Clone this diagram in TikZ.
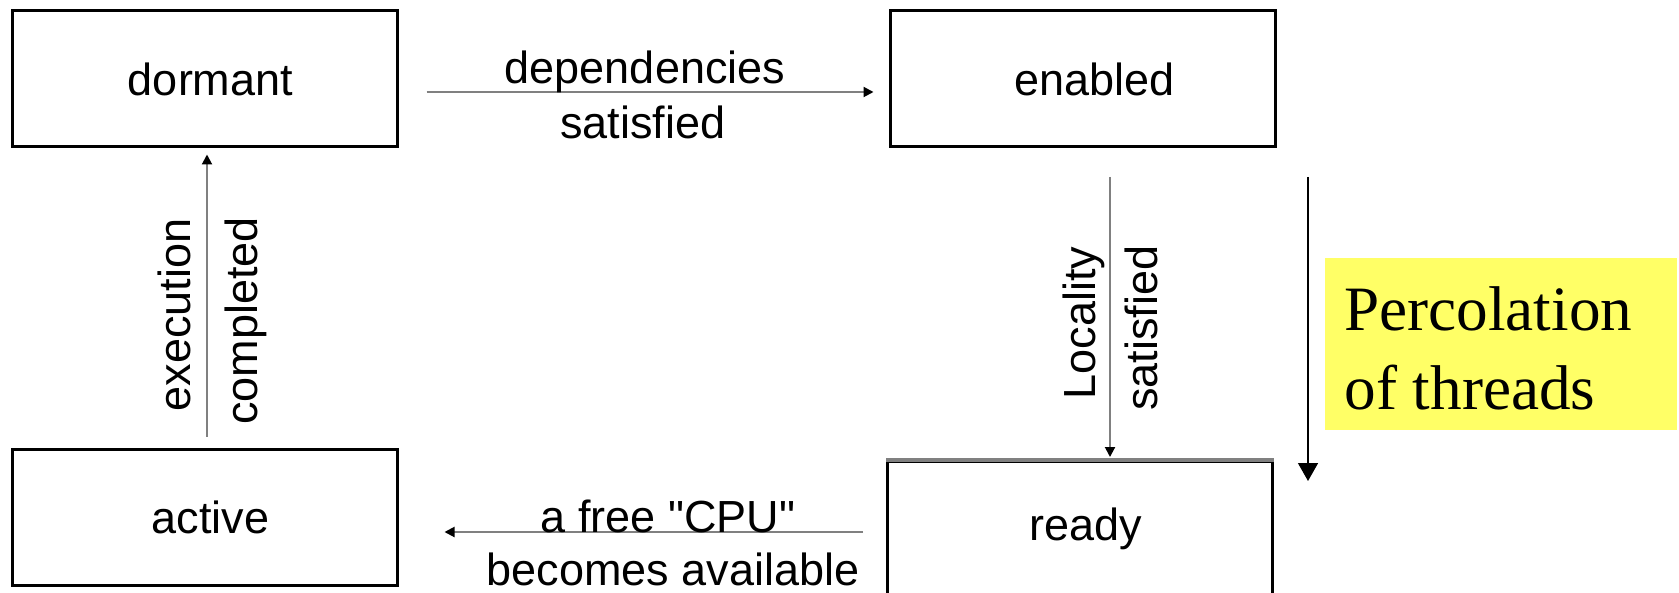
\documentclass[tikz,border=0pt]{standalone}
\usepackage{fontspec}
\newfontfamily\statefont{Liberation Sans}
\newfontfamily\notefont{Liberation Serif}
\usetikzlibrary{arrows.meta, calc}
\definecolor{noteyellow}{RGB}{255,255,102}
\definecolor{flowgray}{RGB}{128,128,128}
\def\labelsize{\fontsize{22.5}{25}\selectfont}

\begin{document}
\begin{tikzpicture}[x=0.5pt, y=-0.5pt,
    state/.style={draw, line width=1.5pt, minimum width=192.5pt, minimum height=68pt, inner sep=0pt, font=\statefont\labelsize},
    flow/.style={draw=flowgray, line width=1pt, -{Triangle[width=5pt, length=5pt, color=black]}},
    tag/.style={font=\statefont\labelsize, inner sep=0pt, anchor=base},
    vtag/.style={tag, rotate=90}]
    \clip (0,0) rectangle (1679,593);
    \fill [white] (0,0) rectangle (1679,593);

    % the four states
    \node [state] (dormant) at (204.5,79) {\hspace*{6pt}dormant};
    \node [state] (enabled) at (1082.5,79) {\hspace*{12pt}enabled};
    \node [state] (active) at (204.5,517.5) {\hspace*{6pt}active};
    \node [state] (ready) at (1080,529) {\hspace*{6pt}ready};
    \draw [flowgray, line width=2pt] (ready.north west) -- (ready.north east);

    % transitions
    \coordinate (depStart) at ($(dormant.east)+(28,13)$);
    \coordinate (depEnd) at ($(enabled.west)+(-15,13)$);
    \draw [flow] (depStart) -- (depEnd);
    \node [tag] (depLine1) at (645,84) {dependencies};
    \node [tag] (depLine2) at (643,139) {satisfied};

    \coordinate (locStart) at ($(enabled.south)+(27.5,28.5)$);
    \coordinate (locEnd) at ($(ready.north)+(30,-2.5)$);
    \draw [flow] (locStart) -- (locEnd);
    \node [vtag] (locLine1) at (1095,323) {Locality};
    \node [vtag] (locLine2) at (1157,328) {satisfied};

    \coordinate (cpuStart) at ($(ready.west)+(-23,3)$);
    \coordinate (cpuEnd) at ($(active.east)+(46,14.5)$);
    \draw [flow] (cpuStart) -- (cpuEnd);
    \node [tag] (cpuLine1) at (668,532) {a free "CPU"};
    \node [tag] (cpuLine2) at (673,585) {becomes available};

    \coordinate (execStart) at ($(active.north)+(2.5,-11.5)$);
    \coordinate (execEnd) at ($(dormant.south)+(2.5,6)$);
    \draw [flow] (execStart) -- (execEnd);
    \node [vtag] (execLine1) at (190,315) {execution};
    \node [vtag] (execLine2) at (257,321) {completed};

    % percolation note
    \coordinate (percTop) at (1308,177);
    \coordinate (percEnd) at (1308,481);
    \draw [line width=0.75pt, -{Triangle[width=10pt, length=9pt]}] (percTop) -- (percEnd);
    \node [fill=noteyellow, minimum width=176pt, minimum height=86pt, inner sep=0pt] (percBox) at (1501,344) {};
    \node [font=\notefont\fontsize{31.6}{38}\selectfont, inner sep=0pt, anchor=base west] (percLine1) at (1344,330) {Percolation};
    \node [font=\notefont\fontsize{31.6}{38}\selectfont, inner sep=0pt, anchor=base west] (percLine2) at (1344,409) {of threads};
\end{tikzpicture}
\end{document}
